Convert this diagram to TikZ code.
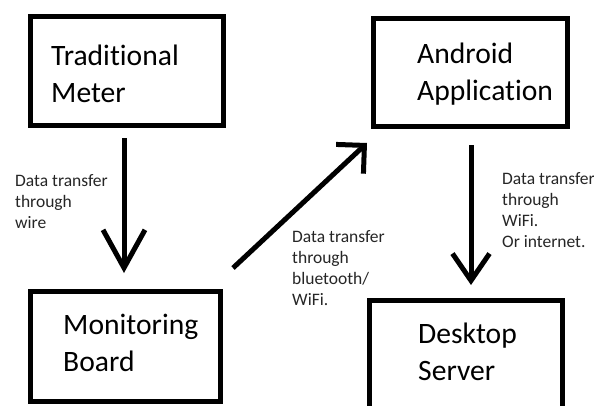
\documentclass[tikz,border=0pt]{standalone}
\usepackage{fontspec}
\setmainfont{Carlito}[Ligatures={NoCommon}]
\usetikzlibrary{arrows.meta}
\begin{document}
\begin{tikzpicture}[x=1pt,y=-1pt,
  box/.style={draw, line width=5pt, inner sep=0pt},
  boxtext/.style={anchor=base west, inner sep=0pt, align=left, font=\fontsize{29.6}{36.5}\selectfont},
  note/.style={anchor=base west, inner sep=0pt, align=left, font=\fontsize{17.5}{21}\selectfont, text=black!85},
  conn/.style={line width=5pt}]
\fill[white] (0,0) rectangle (594,405);
\clip (0,0) rectangle (594,405);
% boxes
\node[box, minimum width=193pt, minimum height=109pt] (tm) at (127,71) {};
\node[box, minimum width=194pt, minimum height=108pt] (aa) at (470.5,72.5) {};
\node[box, minimum width=190pt, minimum height=110pt] (mb) at (125.5,346.5) {};
\node[box, minimum width=193pt, minimum height=119pt] (ds) at (466,360) {};
% box texts (anchor = baseline of last line)
\node[boxtext] (tmt) at (51,102) {Traditional\\Meter};
\node[boxtext] (aat) at (417,100) {Android\\Application};
\node[boxtext] (mbt) at (63,371) {Monitoring\\Board};
\node[boxtext] (dst) at (418,380) {Desktop\\Server};
% labels
\node[note] (l1) at (15,228) {Data transfer\\through\\wire};
\node[note] (l2) at (292,305) {Data transfer\\through\\bluetooth/\\WiFi.};
\node[note] (l3) at (502,247) {Data transfer\\through\\WiFi.\\Or internet.};
% connectors
\draw[conn, -{Straight Barb[length=38pt,width=42pt]}] ([shift={(-3,10)}]tm.south) -- ([shift={(-1.5,-16)}]mb.north);
\draw[conn, -{Straight Barb[length=20pt,width=40pt]}] ([shift={(10,-21)}]mb.north east) -- ([shift={(-4,14)}]aa.south west);
\draw[conn, -{Straight Barb[length=27pt,width=37pt]}] ([shift={(0.5,16)}]aa.south) -- ([shift={(5,-13)}]ds.north);
\end{tikzpicture}
\end{document}
